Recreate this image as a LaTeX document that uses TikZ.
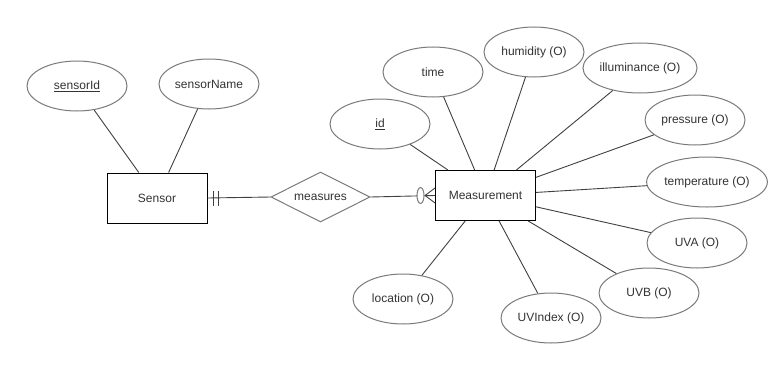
\documentclass[tikz,border=0pt]{standalone}
\usepackage{fontspec}
\setmainfont{Liberation Sans}
\usetikzlibrary{shapes.geometric,calc}
\definecolor{txt}{HTML}{333333}
\definecolor{edge}{HTML}{7A7A7A}
\definecolor{link}{HTML}{404040}
\begin{document}
\begin{tikzpicture}[x=1pt,y=-1pt,
  every node/.style={font=\fontsize{12}{14}\selectfont, text=txt},
  attr/.style={ellipse, draw=edge, line width=1pt, fill=white,
    minimum width=100pt, minimum height=50pt, inner sep=0pt},
  entity/.style={rectangle, draw=black, line width=1pt, fill=white,
    minimum width=100pt, minimum height=50pt},
  rel/.style={diamond, draw=edge, line width=1pt, fill=white, aspect=2,
    minimum width=99pt, minimum height=50pt, inner sep=0pt},
  link/.style={draw=link, line width=0.9pt}]
\useasboundingbox (0,0) rectangle (783,369);

% entities and relationship
\node[entity] (sensor) at (157,198) {Sensor};
\node[entity] (meas) at (485.5,195.5) {Measurement};
\node[rel] (rel) at (320.5,197) {measures};

% attributes of Sensor
\node[attr] (sid) at (77,86) {\underline{sensorId}};
\node[attr] (sname) at (209,84) {sensorName};

% attributes of Measurement
\node[attr] (id) at (380,124) {\underline{id}};
\node[attr] (time) at (433,72) {time};
\node[attr] (hum) at (534,52) {humidity (O)};
\node[attr] (ill) at (640,68) {illuminance (O)};
\node[attr] (pres) at (695,120) {pressure (O)};
\node[attr] (temp) at (707,182) {temperature (O)};
\node[attr] (uva) at (697,243) {UVA (O)};
\node[attr] (uvb) at (649,293) {UVB (O)};
\node[attr] (uvi) at (551,318) {UVIndex (O)};
\node[attr] (loc) at (403,299) {location (O)};

% attribute links
\foreach \a in {sid,sname} \path[link] (\a) -- (sensor);
\foreach \a in {id,time,hum,ill,pres,temp,uva,uvb,uvi,loc} \path[link] (\a) -- (meas);

% relationship links with cardinality marks
\path[link] (sensor.east) -- (rel.west);
\path[link] (rel.east) -- (meas.west);
% mandatory one at Sensor
\draw[link] ($(sensor.east)+(6,-7.5)$) -- ++(0,15);
\draw[link] ($(sensor.east)+(11,-7.5)$) -- ++(0,15);
% zero or many at Measurement
\coordinate (crow) at ($(meas.west)+(-10,0)$);
\draw[link] (crow) -- ($(meas.west)+(0,-7.5)$);
\draw[link] (crow) -- (meas.west);
\draw[link] (crow) -- ($(meas.west)+(0,7.5)$);
\draw[draw=edge, line width=1pt, fill=white] ($(meas.west)+(-14.5,0)$) ellipse [x radius=3.5pt, y radius=8pt];
\end{tikzpicture}
\end{document}
